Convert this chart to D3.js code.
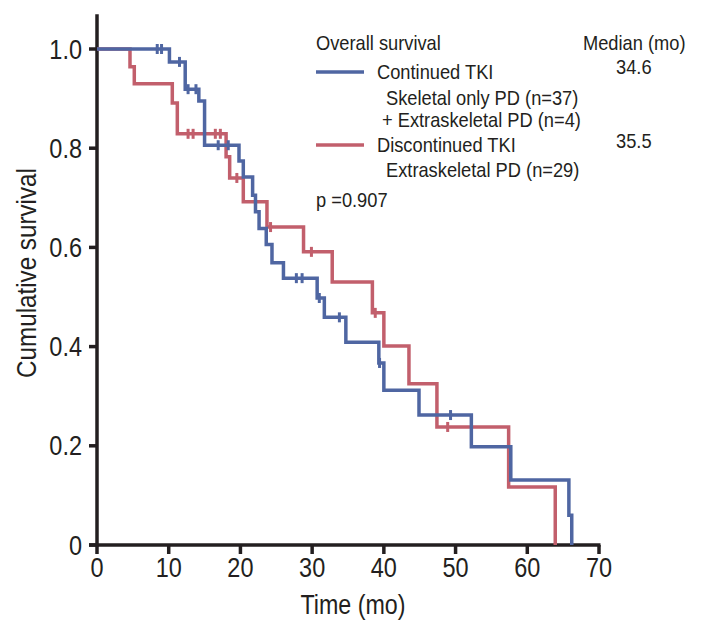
<!DOCTYPE html>
<html>
<head>
<meta charset="utf-8">
<script src="https://cdn.jsdelivr.net/npm/d3@7"></script>
<style>
  html, body { margin: 0; padding: 0; background: #fff; }
  svg { display: block; }
  text { font-family: "Liberation Sans", Arial, sans-serif; fill: #231f20; }
</style>
</head>
<body>
<svg id="chart" width="706" height="628"></svg>
<script>
// ---- data ----
const xTicks = [0, 10, 20, 30, 40, 50, 60, 70];
const yTicks = [0, 0.2, 0.4, 0.6, 0.8, 1.0];
const yTickLabels = ["0", "0.2", "0.4", "0.6", "0.8", "1.0"];

// Continued TKI (blue): step times and survival after each step
const contTimes = [0, 10.1, 12.3, 14.2, 15.0, 19.8, 20.4, 21.7, 22.1, 22.6, 23.6, 24.4, 26.0, 30.7, 31.7, 34.7, 39.3, 40.0, 44.9, 52.2, 57.7, 65.8, 66.2];
const contSurv  = [1.0, 0.974, 0.919, 0.895, 0.806, 0.774, 0.742, 0.705, 0.672, 0.638, 0.606, 0.569, 0.538, 0.498, 0.459, 0.409, 0.367, 0.312, 0.262, 0.198, 0.131, 0.060, 0];
const contCensor = [8.4, 9.0, 11.5, 12.7, 13.8, 16.9, 18.3, 27.8, 28.6, 31.0, 33.8, 39.4, 49.3];

// Discontinued TKI (red)
const discTimes = [0, 4.6, 5.2, 10.5, 11.2, 18.0, 18.5, 20.4, 23.7, 28.8, 32.8, 38.4, 40.0, 43.5, 47.4, 57.4, 63.9];
const discSurv  = [1.0, 0.964, 0.930, 0.891, 0.829, 0.783, 0.740, 0.692, 0.641, 0.591, 0.530, 0.468, 0.401, 0.325, 0.238, 0.117, 0];
const discCensor = [12.7, 13.4, 16.5, 17.2, 19.5, 24.2, 29.9, 38.8, 48.9];

const seriesNames = ["Continued TKI", "Discontinued TKI"];
const seriesSub = [["Skeletal only PD (n=37)", "+ Extraskeletal PD (n=4)"], ["Extraskeletal PD (n=29)"]];
const medians = ["34.6", "35.5"];
const colors = ["#4f66a2", "#c25f6c"];
const pValue = "p =0.907";

// ---- chart ----
const svg = d3.select("#chart");
const x = d3.scaleLinear().domain([0, 70]).range([97, 599]);
const y = d3.scaleLinear().domain([0, 1]).range([545, 49]);
const axisColor = "#231f20";

// condensed text helper
function addText(g, tx, ty, str, size, sx, anchor, rot) {
  return g.append("text")
    .attr("transform", `translate(${tx},${ty})` + (rot ? ` rotate(${rot})` : "") + ` scale(${sx},1)`)
    .attr("font-size", size)
    .attr("text-anchor", anchor || "start")
    .text(str);
}
const bigSize = 28, bigSx = 0.84;
const legSize = 21, legSx = 0.87;

// axes lines
svg.append("line").attr("x1", x(0)).attr("x2", x(0)).attr("y1", y(1.07)).attr("y2", y(0) + 1.5)
  .attr("stroke", axisColor).attr("stroke-width", 3.5);
svg.append("line").attr("x1", x(0) - 8).attr("x2", x(70) + 1.5).attr("y1", y(0)).attr("y2", y(0))
  .attr("stroke", axisColor).attr("stroke-width", 3.5);

// x ticks
const xg = svg.append("g");
xTicks.forEach(t => {
  xg.append("line").attr("x1", x(t)).attr("x2", x(t)).attr("y1", y(0)).attr("y2", y(0) + 9)
    .attr("stroke", axisColor).attr("stroke-width", 3.5);
  addText(xg, x(t), 577, String(t), bigSize, bigSx, "middle");
});
// y ticks
const yg = svg.append("g");
yTicks.forEach((t, i) => {
  yg.append("line").attr("x1", x(0) - 8).attr("x2", x(0)).attr("y1", y(t)).attr("y2", y(t))
    .attr("stroke", axisColor).attr("stroke-width", 3.5);
  addText(yg, 82, y(t) + 9.5, yTickLabels[i], bigSize, bigSx, "end");
});

// axis titles
addText(svg, 353, 614, "Time (mo)", bigSize, 0.83, "middle");
addText(svg, 36, 273, "Cumulative survival", bigSize, 0.865, "middle", -90);

// curves
const line = d3.line().x(d => x(d[0])).y(d => y(d[1])).curve(d3.curveStepAfter);
function survAt(times, surv, t) {
  const i = d3.bisectRight(times, t) - 1;
  return surv[Math.max(0, i)];
}
const series = [
  {times: contTimes, surv: contSurv, cens: contCensor, color: colors[0]},
  {times: discTimes, surv: discSurv, cens: discCensor, color: colors[1]}
];
[series[1], series[0]].forEach(s => {
  const pts = s.times.map((t, i) => [t, s.surv[i]]);
  svg.append("path").attr("d", line(pts)).attr("fill", "none")
    .attr("stroke", s.color).attr("stroke-width", 3.5).attr("stroke-linejoin", "miter");
  s.cens.forEach(c => {
    const v = survAt(s.times, s.surv, c);
    svg.append("line").attr("x1", x(c)).attr("x2", x(c)).attr("y1", y(v) - 5).attr("y2", y(v) + 5)
      .attr("stroke", s.color).attr("stroke-width", 3);
  });
});

// legend
const lg = svg.append("g");
addText(lg, 316, 50, "Overall survival", legSize, legSx);
addText(lg, 583, 50, "Median (mo)", legSize, legSx);
const rows = [{lineY: 72, nameY: 79, medY: 74, subY: [105, 127]}, {lineY: 145, nameY: 152, medY: 148, subY: [177]}];
rows.forEach((r, i) => {
  lg.append("line").attr("x1", 316).attr("x2", 364).attr("y1", r.lineY).attr("y2", r.lineY)
    .attr("stroke", colors[i]).attr("stroke-width", 3.5);
  addText(lg, 377, r.nameY, seriesNames[i], legSize, legSx);
  addText(lg, 616, r.medY, medians[i], legSize, legSx);
  seriesSub[i].forEach((t, j) => {
    addText(lg, t.startsWith("+") ? 382 : 386, r.subY[j], t, legSize, legSx);
  });
});
addText(lg, 316, 207, pValue, legSize, legSx);
</script>
</body>
</html>
